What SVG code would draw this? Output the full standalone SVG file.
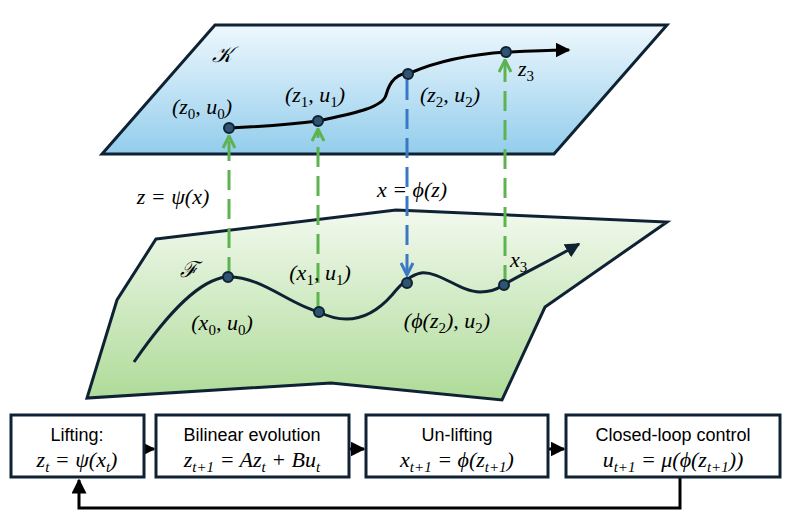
<svg xmlns="http://www.w3.org/2000/svg" width="796" height="526" viewBox="0 0 796 526">
<defs>
<linearGradient id="gK" x1="0" y1="0" x2="0" y2="1"><stop offset="0" stop-color="#eef8fd"/><stop offset="1" stop-color="#93cdec"/></linearGradient>
<linearGradient id="gF" x1="0" y1="0" x2="0" y2="1"><stop offset="0" stop-color="#f2f9ee"/><stop offset="1" stop-color="#aedb98"/></linearGradient>
<marker id="ab" viewBox="0 0 10 10" refX="9" refY="5" markerWidth="5" markerHeight="5" orient="auto"><path d="M0,0 L10,5 L0,10 Z" fill="#000"/></marker>
<marker id="an" viewBox="0 0 10 10" refX="9" refY="5" markerWidth="5" markerHeight="5" orient="auto"><path d="M0,0 L10,5 L0,10 Z" fill="#0f2233"/></marker>
<marker id="ag" viewBox="0 0 10 10" refX="9" refY="5" markerWidth="5" markerHeight="5" orient="auto"><path d="M1,1 L9,5 L1,9" fill="none" stroke="#5cb34f" stroke-width="2"/></marker>
<marker id="abl" viewBox="0 0 10 10" refX="9" refY="5" markerWidth="5" markerHeight="5" orient="auto"><path d="M1,1 L9,5 L1,9" fill="none" stroke="#3a78c6" stroke-width="2"/></marker>
<style>
.m{font-family:"Liberation Serif","DejaVu Serif",serif;font-style:italic;font-size:22px;fill:#000}
.t{font-family:"Liberation Sans",Arial,sans-serif;font-size:18px;fill:#000}
.box{fill:#fff;stroke:#0f2233;stroke-width:3}
.dot{fill:#2f5471;stroke:#0f2233;stroke-width:2}
.gd{stroke:#5cb34f;stroke-width:3;stroke-dasharray:20 9;fill:none}
.bd{stroke:#3a78c6;stroke-width:3;stroke-dasharray:20 9;fill:none}
</style>
</defs>
<g id="planeK">
<polygon points="215,25 667,25 554,154 102,154" fill="url(#gK)" stroke="#0f2233" stroke-width="3"/>
<text class="m" x="212" y="62" font-size="32">𝒦</text>
</g>
<g id="planeF">
<polygon points="156,239 396,210 667,222 545,307 502,400 331,383 87,398 117,300" fill="url(#gF)" stroke="#0f2233" stroke-width="3"/>
<text class="m" x="180" y="277" font-size="32">ℱ</text>
</g>
<g id="connectors">
<path d="M229,128 C270,126 295,124 318,121 C350,114 383,108 386,95 C390,80 398,73 410,73 C440,60 475,54 507,52 C530,51 550,50 569,50" fill="none" stroke="#000" stroke-width="3" marker-end="url(#ab)"/>
<path d="M134,362 C170,310 200,280 226,277 C260,275 290,305 319,312 C345,325 370,320 392,295 C400,285 410,275 421,273 C440,271 460,292 480,292 C495,292 500,287 503,285 C530,270 555,258 579,244" fill="none" stroke="#0f2233" stroke-width="3" marker-end="url(#an)"/>
<line class="gd" x1="229" y1="277" x2="229" y2="136" marker-end="url(#ag)"/>
<line class="gd" x1="318" y1="312" x2="318" y2="129" marker-end="url(#ag)"/>
<line class="gd" x1="505" y1="285" x2="505" y2="60" marker-end="url(#ag)"/>
<line class="bd" x1="407" y1="80" x2="407" y2="275" marker-end="url(#abl)"/>
<line x1="144" y1="449" x2="154" y2="449" stroke="#000" stroke-width="3" marker-end="url(#ab)"/>
<line x1="349" y1="449" x2="364" y2="449" stroke="#000" stroke-width="3" marker-end="url(#ab)"/>
<line x1="548" y1="449" x2="564" y2="449" stroke="#000" stroke-width="3" marker-end="url(#ab)"/>
<polyline points="680,477 680,508 79,508 79,480" fill="none" stroke="#000" stroke-width="3" marker-end="url(#ab)"/>
</g>
<g id="dotsK">
<circle class="dot" cx="229" cy="128" r="5"/><circle class="dot" cx="318" cy="121" r="5"/><circle class="dot" cx="408" cy="74" r="5"/><circle class="dot" cx="506" cy="52" r="5"/>
</g>
<g id="dotsF">
<circle class="dot" cx="228" cy="277" r="5"/><circle class="dot" cx="319" cy="312" r="5"/><circle class="dot" cx="407" cy="283" r="5"/><circle class="dot" cx="504" cy="285" r="5"/>
</g>
<g id="labels">
<text class="m" x="202" y="114" text-anchor="middle">(z<tspan font-size="15" font-style="normal" dy="5">0</tspan><tspan dy="-5">, u</tspan><tspan font-size="15" font-style="normal" dy="5">0</tspan><tspan dy="-5">)</tspan></text>
<text class="m" x="315" y="102" text-anchor="middle">(z<tspan font-size="15" font-style="normal" dy="5">1</tspan><tspan dy="-5">, u</tspan><tspan font-size="15" font-style="normal" dy="5">1</tspan><tspan dy="-5">)</tspan></text>
<text class="m" x="450" y="102" text-anchor="middle">(z<tspan font-size="15" font-style="normal" dy="5">2</tspan><tspan dy="-5">, u</tspan><tspan font-size="15" font-style="normal" dy="5">2</tspan><tspan dy="-5">)</tspan></text>
<text class="m" x="518" y="76">z<tspan font-size="15" font-style="normal" dy="5">3</tspan></text>
<text class="m" x="173" y="204" text-anchor="middle">z = ψ(x)</text>
<text class="m" x="412" y="197" text-anchor="middle">x = ϕ(z)</text>
<text class="m" x="222" y="330" text-anchor="middle">(x<tspan font-size="15" font-style="normal" dy="5">0</tspan><tspan dy="-5">, u</tspan><tspan font-size="15" font-style="normal" dy="5">0</tspan><tspan dy="-5">)</tspan></text>
<text class="m" x="320" y="280" text-anchor="middle">(x<tspan font-size="15" font-style="normal" dy="5">1</tspan><tspan dy="-5">, u</tspan><tspan font-size="15" font-style="normal" dy="5">1</tspan><tspan dy="-5">)</tspan></text>
<text class="m" x="447" y="328" text-anchor="middle">(ϕ(z<tspan font-size="15" font-style="normal" dy="5">2</tspan><tspan dy="-5">), u</tspan><tspan font-size="15" font-style="normal" dy="5">2</tspan><tspan dy="-5">)</tspan></text>
<text class="m" x="510" y="267">x<tspan font-size="15" font-style="normal" dy="5">3</tspan></text>
</g>
<g id="box1"><rect class="box" x="11" y="415" width="133" height="62"/>
<text class="t" x="77" y="441" text-anchor="middle">Lifting:</text>
<text class="m" x="77" y="467" text-anchor="middle">z<tspan font-size="15" dy="5">t</tspan><tspan dy="-5"> = ψ(x</tspan><tspan font-size="15" dy="5">t</tspan><tspan dy="-5">)</tspan></text></g>
<g id="box2"><rect class="box" x="156" y="415" width="193" height="62"/>
<text class="t" x="252" y="441" text-anchor="middle">Bilinear evolution</text>
<text class="m" x="252" y="467" text-anchor="middle">z<tspan font-size="15" dy="5">t+1</tspan><tspan dy="-5"> = Az</tspan><tspan font-size="15" dy="5">t</tspan><tspan dy="-5"> + Bu</tspan><tspan font-size="15" dy="5">t</tspan></text></g>
<g id="box3"><rect class="box" x="366" y="415" width="182" height="62"/>
<text class="t" x="457" y="441" text-anchor="middle">Un-lifting</text>
<text class="m" x="457" y="467" text-anchor="middle">x<tspan font-size="15" dy="5">t+1</tspan><tspan dy="-5"> = ϕ(z</tspan><tspan font-size="15" dy="5">t+1</tspan><tspan dy="-5">)</tspan></text></g>
<g id="box4"><rect class="box" x="566" y="415" width="214" height="62"/>
<text class="t" x="673" y="441" text-anchor="middle">Closed-loop control</text>
<text class="m" x="673" y="467" text-anchor="middle">u<tspan font-size="15" dy="5">t+1</tspan><tspan dy="-5"> = μ(ϕ(z</tspan><tspan font-size="15" dy="5">t+1</tspan><tspan dy="-5">))</tspan></text></g>
</svg>
